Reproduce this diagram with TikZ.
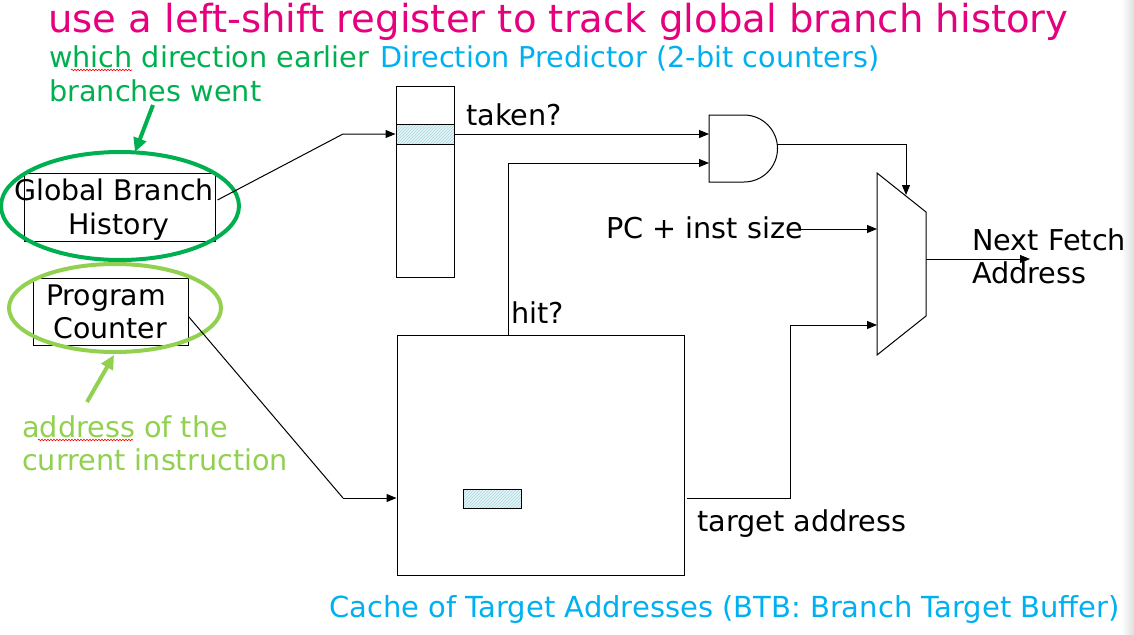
\documentclass[tikz,border=0pt]{standalone}
\usepackage{fontspec}
\setmainfont{DejaVu Sans}
\usetikzlibrary{arrows.meta,calc,patterns,decorations.pathmorphing}
\definecolor{ttlmag}{RGB}{230,0,126}
\definecolor{dkgreen}{RGB}{0,176,80}
\definecolor{ltgreen}{RGB}{146,208,80}
\definecolor{skyblue}{RGB}{0,176,240}
\definecolor{hatchbg}{RGB}{230,244,246}
\definecolor{hatchfg}{RGB}{168,216,222}
\tikzset{
  txt/.style={inner sep=0pt, anchor=base west, font=\fontsize{28.7}{33}\selectfont},
  ctxt/.style={inner sep=0pt, anchor=base, font=\fontsize{28.4}{33}\selectfont},
  blk/.style={draw=black, line width=1pt, inner sep=0pt, fill=white},
  hatchbox/.style={draw=black, line width=1pt, inner sep=0pt, preaction={fill=hatchbg}, pattern=north east lines, pattern color=hatchfg},
  wire/.style={draw=black, line width=1pt},
  arr/.style={wire, -{Triangle[length=10pt,width=8pt]}},
  bigarr/.style={line width=4pt, -{Triangle[length=14pt,width=13pt]}},
  squig/.style={red, line width=0.6pt, decorate, decoration={snake, segment length=3pt, amplitude=0.8pt}}
}
\begin{document}
\begin{tikzpicture}[x=1pt,y=-1pt]
\useasboundingbox (0,0) rectangle (1134,634);
\fill[white] (0,0) rectangle (1134,634);
\shade[left color=white, right color=gray!25] (1121,0) rectangle (1134,634);

% title and annotations
\node[txt, font=\fontsize{38.6}{44}\selectfont, text=ttlmag] (title) at (48,33) {use a left-shift register to track global branch history};
\node[txt, text=dkgreen] (which1) at (49,67) {which direction earlier};
\node[txt, text=dkgreen] (which2) at (49,101) {branches went};
\node[txt, text=skyblue] (dplabel) at (380,67) {Direction Predictor (2-bit counters)};
\node[txt, text=ltgreen] (addr1) at (22,437) {address of the};
\node[txt, text=ltgreen] (addr2) at (22,470) {current instruction};
\node[txt, font=\fontsize{29}{33}\selectfont, text=skyblue] (btblabel) at (329,617) {Cache of Target Addresses (BTB: Branch Target Buffer)};

% spell-check marks
\draw[squig] (71,70) -- (132,70);
\draw[squig] (90,237) -- (173,237);
\draw[squig] (38,440) -- (133,440);

% global branch history
\node[blk, minimum width=191pt, minimum height=68pt] (gbh) at (119.5,207) {};
\node[ctxt] (gbht1) at (114,200) {Global Branch};
\node[ctxt] (gbht2) at (119,234) {History};
\draw[dkgreen, line width=4pt] (120,206) ellipse [x radius=119pt, y radius=54pt];

% program counter
\node[blk, minimum width=155pt, minimum height=67pt] (pc) at (110.5,311.5) {};
\node[ctxt] (pct1) at (106,305) {Program};
\node[ctxt] (pct2) at (110,338) {Counter};
\draw[ltgreen, line width=4pt] (115,308) ellipse [x radius=106pt, y radius=44pt];

% annotation arrows
\coordinate (ga) at (153,105);
\coordinate (gb) at (135,152);
\draw[bigarr, dkgreen] (ga) -- (gb);
\coordinate (la) at (87,402);
\coordinate (lb) at (114,355);
\draw[bigarr, ltgreen] (la) -- (lb);

% direction predictor table
\node[blk, minimum width=58pt, minimum height=191pt] (dp) at (425,181.5) {};
\node[hatchbox, minimum width=58pt, minimum height=20pt] (dprow) at (425,134) {};

% BTB
\node[blk, minimum width=287pt, minimum height=240pt] (btb) at (540.5,455) {};
\node[hatchbox, minimum width=58pt, minimum height=19pt] (btbrow) at (492,498.5) {};

% AND gate
\draw[wire, fill=white] (709,115) -- (744,115) arc[start angle=90, end angle=-90, radius=33.5pt] -- (709,182) -- cycle;
\coordinate (andin1) at (709,134);
\coordinate (andin2) at (709,163);
\coordinate (andout) at (777,144);

% MUX
\coordinate (muxA) at (877,173);
\coordinate (muxB) at (926,212);
\coordinate (muxC) at (926,316);
\coordinate (muxD) at (877,355);
\draw[wire, fill=white] (muxA) -- (muxB) -- (muxC) -- (muxD) -- cycle;
\coordinate (muxsel) at (906,195);
\coordinate (muxin1) at (877,229);
\coordinate (muxin2) at (877,325);
\coordinate (muxout) at (926,259);
\coordinate (nfa) at (1030,259);

% labels
\node[txt] (taken) at (466,125) {taken?};
\node[txt] (pcsize) at (606,238) {PC + inst size};
\node[txt] (hit) at (511,323) {hit?};
\node[txt] (tgt) at (697,531) {target address};
\node[txt] (nf1) at (972,250) {Next Fetch};
\node[txt] (nf2) at (972,283) {Address};

% connectors
\coordinate (k1) at (343,134);
\draw[arr] ($(gbh.east)+(2,-7)$) -- (k1) -- (dprow.west);
\draw[arr] (dprow.east) -- (andin1);
\draw[arr] (btb.north -| 508,0) -- (508,163) -- (andin2);
\draw[arr] (andout) -- (906,144) -- (muxsel);
\draw[arr] (798,229) -- (muxin1);
\draw[arr] (muxout) -- (nfa);
\draw[arr] ($(btb.east |- 0,498)+(2,0)$) -- (790,498) -- (790,325) -- (muxin2);
\coordinate (k2) at (343,498);
\draw[wire] ($(pc.east)+(0,5)$) -- (k2);
\draw[arr] (k2) -- (btb.west |- k2);
\end{tikzpicture}
\end{document}
